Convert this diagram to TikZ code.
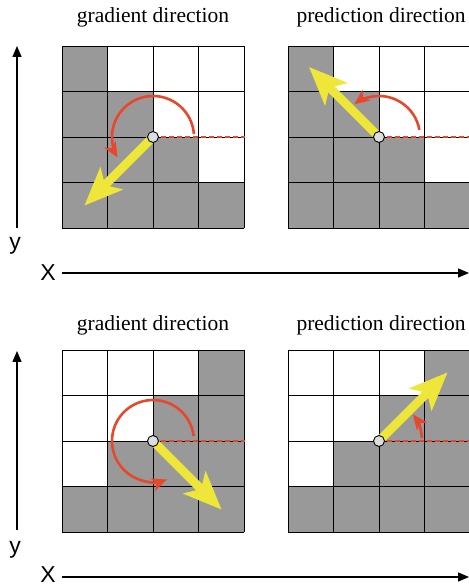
\documentclass[tikz,border=0pt]{standalone}
\usepackage{fontspec}
\setmainfont{Liberation Serif}
\setsansfont{Liberation Sans}
\usetikzlibrary{arrows.meta,positioning}
\definecolor{CellGray}{HTML}{999999}
\definecolor{TurnRed}{HTML}{E8472B}
\definecolor{DirYellow}{HTML}{EEE638}
\definecolor{DotGray}{HTML}{DDDDDD}

\begin{document}
\begin{tikzpicture}[
 x=1pt,y=1pt,
 title/.style={font=\fontsize{21.5}{24}\selectfont},
 axislabel/.style={font=\sffamily\fontsize{23}{26}\selectfont,inner sep=0pt},
 cell/.style={fill=CellGray},
 gridline/.style={draw=black,line width=.9pt},
 axis/.style={-{Triangle[length=11pt,width=9pt]},line width=1.4pt},
 dirarrow/.style={draw=DirYellow,line width=8.5pt,
   -{Stealth[length=38pt,width=31pt,inset=9pt]}},
 turn/.style={draw=TurnRed,line width=2.6pt,
   -{Stealth[length=15pt,width=13pt,inset=4pt]}},
 refline/.style={draw=TurnRed,line width=1.7pt,dash pattern=on 5pt off 3pt},
 pixel/.style={circle,draw=black,fill=DotGray,line width=.9pt,
   minimum size=11pt,inner sep=0pt}
]
 \useasboundingbox (0,0) rectangle (469,587);

 % blocks of pixels, 0 = edge rising to the right, 1 = falling
 \foreach \gx/\gy/\kind in {62/359/0,288/359/0,62/55/1,288/55/1}{
  \begin{scope}[shift={(\gx,\gy)},x=45.5pt,y=45.5pt]
   \foreach \c in {0,...,3}
    \foreach \r in {0,...,3}{
     \pgfmathtruncatemacro\isgray{\kind==0 ? (\c<=\r) : (\c+\r>=3)}
     \ifnum\isgray=1 \fill[cell] (\c,3-\r) rectangle ++(1,1);\fi
    }
   \draw[gridline] (0,0) grid[step=45.5pt] (4,4);
  \end{scope}
 }

 \coordinate (cTL) at (153,450);
 \coordinate (cTR) at (379,450);
 \coordinate (cBL) at (153,146);
 \coordinate (cBR) at (379,146);

 \node[title] (gradTop) at (153,570) {gradient direction};
 \node[title] (predTop) at (381,570) {prediction direction};
 \node[title] (gradBot) at (153,262) {gradient direction};
 \node[title] (predBot) at (381,262) {prediction direction};

 \draw[refline] (cTL) -- ++(92,0);
 \draw[refline] (cTR) -- ++(92,0);
 \draw[refline] (cBL) -- ++(92,0);
 \draw[refline] (cBR) -- ++(92,0);

 \draw[turn] (cTL) ++(4:41) arc[start angle=4,end angle=210,radius=41];
 \draw[turn] (cTR) ++(10:41) arc[start angle=10,end angle=127,radius=41];
 \draw[turn] (cBL) ++(7:41) arc[start angle=7,end angle=290,radius=41];
 \draw[turn] (cBR) ++(4:43) arc[start angle=4,end angle=38,radius=43];

 \draw[dirarrow] (cTL) -- ++(225:97);
 \draw[dirarrow] (cTR) -- ++(135:99);
 \draw[dirarrow] (cBL) -- ++(-45:97);
 \draw[dirarrow] (cBR) -- ++(45:97);

 \node[pixel] (pTL) at (cTL) {};
 \node[pixel] (pTR) at (cTR) {};
 \node[pixel] (pBL) at (cBL) {};
 \node[pixel] (pBR) at (cBR) {};

 % axes
 \coordinate (yTopFrom) at (17,359);
 \coordinate (yTopTo) at (17,541);
 \coordinate (xTopFrom) at (62,314);
 \coordinate (xTopTo) at (469,314);
 \coordinate (yBotFrom) at (17,57);
 \coordinate (yBotTo) at (17,236);
 \coordinate (xBotFrom) at (62,10);
 \coordinate (xBotTo) at (469,10);
 \draw[axis] (yTopFrom) -- (yTopTo);
 \draw[axis] (xTopFrom) -- (xTopTo);
 \draw[axis] (yBotFrom) -- (yBotTo);
 \draw[axis] (xBotFrom) -- (xBotTo);
 \node[axislabel] (yTop) at (15,341) {y};
 \node[axislabel] (xTop) at (48,314) {X};
 \node[axislabel] (yBot) at (15,37) {y};
 \node[axislabel] (xBot) at (48,12.5) {X};
\end{tikzpicture}
\end{document}
